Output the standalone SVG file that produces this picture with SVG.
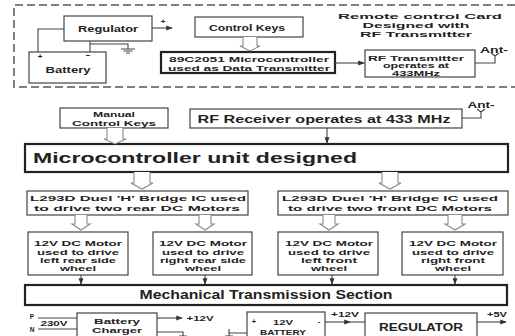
<svg xmlns="http://www.w3.org/2000/svg" width="515" height="336" viewBox="0 0 515 336">
<defs>
<style>
.bx{fill:#fff;stroke:#444;stroke-width:1.2}
.tk{fill:#fff;stroke:#222;stroke-width:2.2}
.ln{fill:none;stroke:#444;stroke-width:1.1}
.ha{fill:#fff;stroke:#8a8a8a;stroke-width:1.1}
.t{font-family:"Liberation Sans",Arial,sans-serif;font-weight:bold;fill:#222;text-anchor:middle}
.s6{font-size:6.5px}.s7{font-size:7.5px}.s8{font-size:8px}.s9{font-size:9.5px}.s10{font-size:10.5px}.s12{font-size:12px}.s14{font-size:15px}
.dash{fill:none;stroke:#555;stroke-width:1.5;stroke-dasharray:8 4}
</style>
<marker id="ar" viewBox="0 0 8 8" refX="7" refY="4" markerWidth="6" markerHeight="6" orient="auto"><path d="M0,1 L8,4 L0,7 z" fill="#333"/></marker>
</defs>
<rect width="515" height="336" fill="#fff"/>

<!-- remote card dashed border -->
<path class="dash" d="M515,5 H14 V87 H515"/>
<g id="card-title">
<text class="t s8" x="420" y="18.5" textLength="164" lengthAdjust="spacingAndGlyphs">Remote control Card</text>
<text class="t s8" x="416" y="27.5" textLength="107" lengthAdjust="spacingAndGlyphs">Designed with</text>
<text class="t s8" x="416" y="36.5" textLength="112" lengthAdjust="spacingAndGlyphs">RF Transmitter</text>
</g>

<g id="regulator"><rect class="bx" x="64" y="16" width="88" height="25"/><text class="t s9" x="108" y="32" textLength="60" lengthAdjust="spacingAndGlyphs">Regulator</text></g>
<g id="battery"><rect class="bx" x="29" y="52" width="77" height="31"/><text class="t s9" x="68" y="73" textLength="45" lengthAdjust="spacingAndGlyphs">Battery</text><text class="t s8" x="40" y="59">+</text><text class="t s8" x="88" y="58">−</text></g>
<g id="control-keys"><rect class="bx" x="195" y="17" width="108" height="20"/><text class="t s9" x="247" y="31" textLength="76" lengthAdjust="spacingAndGlyphs">Control Keys</text></g>
<g id="mcu-tx"><rect class="tk" x="161" y="52" width="174" height="21"/><text class="t s7" x="249" y="62" textLength="160" lengthAdjust="spacingAndGlyphs">89C2051 Microcontroller</text><text class="t s7" x="249" y="70.5" textLength="162" lengthAdjust="spacingAndGlyphs">used as Data Transmitter</text></g>
<g id="rf-tx"><rect class="bx" x="365" y="50" width="110" height="27"/><text class="t s6" x="416" y="60.5" textLength="96" lengthAdjust="spacingAndGlyphs">RF Transmitter</text><text class="t s6" x="416" y="68" textLength="66" lengthAdjust="spacingAndGlyphs">operates at</text><text class="t s6" x="416" y="75.5" textLength="48" lengthAdjust="spacingAndGlyphs">433MHz</text></g>
<g id="ant1"><text class="t s9" x="494" y="53" textLength="28" lengthAdjust="spacingAndGlyphs">Ant-</text></g>

<g id="manual-keys"><rect class="bx" x="60" y="108" width="108" height="20"/><text class="t s7" x="114" y="117" textLength="42" lengthAdjust="spacingAndGlyphs">Manual</text><text class="t s7" x="114" y="126" textLength="84" lengthAdjust="spacingAndGlyphs">Control Keys</text></g>
<g id="rf-rx"><rect class="bx" x="190" y="109" width="272" height="19"/><text class="t s10" x="324" y="123" textLength="253" lengthAdjust="spacingAndGlyphs">RF Receiver operates at 433 MHz</text></g>
<g id="ant2"><text class="t s9" x="481" y="108" textLength="27" lengthAdjust="spacingAndGlyphs">Ant-</text></g>
<g id="mcu"><rect class="tk" x="25" y="144" width="483" height="28"/><text class="t s14" x="195" y="163" textLength="324" lengthAdjust="spacingAndGlyphs">Microcontroller unit designed</text></g>

<g id="hb-rear"><rect class="bx" x="27" y="191" width="221" height="24"/><text class="t s8" x="138" y="201" textLength="216" lengthAdjust="spacingAndGlyphs">L293D Duel 'H' Bridge IC used</text><text class="t s8" x="137" y="211" textLength="206" lengthAdjust="spacingAndGlyphs">to drive two rear DC Motors</text></g>
<g id="hb-front"><rect class="bx" x="278" y="191" width="230" height="24"/><text class="t s8" x="390" y="201" textLength="216" lengthAdjust="spacingAndGlyphs">L293D Duel 'H' Bridge IC used</text><text class="t s8" x="390" y="211" textLength="204" lengthAdjust="spacingAndGlyphs">to drive two front DC Motors</text></g>

<g id="m1"><rect class="bx" x="28" y="232" width="100" height="43"/><text class="t s6" x="78" y="246" textLength="88" lengthAdjust="spacingAndGlyphs">12V DC Motor</text><text class="t s6" x="78" y="254.5" textLength="82" lengthAdjust="spacingAndGlyphs">used to drive</text><text class="t s6" x="78" y="263" textLength="76" lengthAdjust="spacingAndGlyphs">left rear side</text><text class="t s6" x="78" y="271" textLength="36" lengthAdjust="spacingAndGlyphs">wheel</text></g>
<g id="m2"><rect class="bx" x="153" y="232" width="99" height="43"/><text class="t s6" x="203" y="246" textLength="88" lengthAdjust="spacingAndGlyphs">12V DC Motor</text><text class="t s6" x="203" y="254.5" textLength="82" lengthAdjust="spacingAndGlyphs">used to drive</text><text class="t s6" x="203" y="263" textLength="86" lengthAdjust="spacingAndGlyphs">right rear side</text><text class="t s6" x="203" y="271" textLength="36" lengthAdjust="spacingAndGlyphs">wheel</text></g>
<g id="m3"><rect class="bx" x="278" y="232" width="100" height="43"/><text class="t s6" x="329" y="246" textLength="88" lengthAdjust="spacingAndGlyphs">12V DC Motor</text><text class="t s6" x="329" y="254.5" textLength="82" lengthAdjust="spacingAndGlyphs">used to drive</text><text class="t s6" x="329" y="263" textLength="56" lengthAdjust="spacingAndGlyphs">left front</text><text class="t s6" x="329" y="271" textLength="36" lengthAdjust="spacingAndGlyphs">wheel</text></g>
<g id="m4"><rect class="bx" x="402" y="232" width="101" height="43"/><text class="t s6" x="453" y="246" textLength="88" lengthAdjust="spacingAndGlyphs">12V DC Motor</text><text class="t s6" x="453" y="254.5" textLength="82" lengthAdjust="spacingAndGlyphs">used to drive</text><text class="t s6" x="453" y="263" textLength="64" lengthAdjust="spacingAndGlyphs">right front</text><text class="t s6" x="453" y="271" textLength="36" lengthAdjust="spacingAndGlyphs">wheel</text></g>

<g id="mech"><rect class="tk" x="25" y="285" width="482" height="20"/><text class="t s12" x="266" y="299" textLength="253" lengthAdjust="spacingAndGlyphs">Mechanical Transmission Section</text></g>

<g id="charger"><rect class="bx" x="77" y="313" width="80" height="30"/><text class="t s7" x="117" y="324" textLength="46" lengthAdjust="spacingAndGlyphs">Battery</text><text class="t s7" x="117" y="333" textLength="50" lengthAdjust="spacingAndGlyphs">Charger</text></g>
<g id="battery12"><rect class="bx" x="247" y="312" width="78" height="30"/><text class="t s7" x="283" y="325" textLength="20" lengthAdjust="spacingAndGlyphs">12V</text><text class="t s7" x="283" y="335" textLength="46" lengthAdjust="spacingAndGlyphs">BATTERY</text><text class="t s7" x="254" y="324">+</text><text class="t s7" x="319" y="324">-</text></g>
<g id="regulator2"><rect class="bx" x="365" y="313" width="112" height="30"/><text class="t s10" x="421" y="331" textLength="84" lengthAdjust="spacingAndGlyphs">REGULATOR</text></g>

<g id="labels">
<text class="t s8" x="163" y="24">+</text>
<text class="t s6" x="32" y="319">P</text>
<text class="t s6" x="54" y="325.5" textLength="27" lengthAdjust="spacingAndGlyphs">230V</text>
<text class="t s6" x="32" y="332">N</text>
<text class="t s8" x="200" y="321" textLength="27" lengthAdjust="spacingAndGlyphs">+12V</text>
<text class="t s8" x="345" y="317" textLength="28" lengthAdjust="spacingAndGlyphs">+12V</text>
<text class="t s8" x="497" y="317" textLength="20" lengthAdjust="spacingAndGlyphs">+5V</text>
</g>

<g id="connectors">
<!-- top card -->
<path class="ln" d="M64,29 H38 V52"/>
<path class="ln" d="M90,41 V52"/>
<path class="ln" d="M90,44 H128 V49"/>
<path class="ln" d="M121,49 H135 M123.5,51 H132.5 M126,53 H130"/>
<path class="ln" d="M152,28 H172" marker-end="url(#ar)"/>
<polyline class="ha" points="243,37 243,46 240,46 250,51 260,46 257,46 257,37"/>
<path class="ln" d="M335,63 H364" marker-end="url(#ar)"/>
<path class="ln" d="M475,63 H495 V55 M491,53 L495,56 L499,53"/>
<!-- lower -->
<path class="ln" d="M462,118 H481 V111 M477,109 L481,112 L485,109"/>
<polyline class="ha" points="107,128 107,139 104,139 115,144 126,139 123,139 123,128"/>
<path class="ln" d="M327,128 V143" marker-end="url(#ar)"/>
<polyline class="ha" points="134,172 134,183 131,183 142,189 153,183 150,183 150,172"/>
<polyline class="ha" points="382,172 382,183 379,183 390,189 401,183 398,183 398,172"/>
<polyline class="ha" points="75,215 75,224 72,224 81,230 90,224 87,224 87,215"/>
<polyline class="ha" points="199,215 199,224 196,224 205,230 214,224 211,224 211,215"/>
<polyline class="ha" points="323,215 323,224 320,224 329,230 338,224 335,224 335,215"/>
<polyline class="ha" points="448,215 448,224 445,224 455,230 465,224 462,224 462,215"/>
<path class="ln" d="M81,275 V284" marker-end="url(#ar)"/>
<path class="ln" d="M205,275 V284" marker-end="url(#ar)"/>
<path class="ln" d="M332,275 V284" marker-end="url(#ar)"/>
<path class="ln" d="M455,275 V284" marker-end="url(#ar)"/>
<!-- power row -->
<path class="ln" d="M38,318 H77 M38,329 H77"/>
<path class="ln" d="M157,318 H182" marker-end="url(#ar)"/>
<path class="ln" d="M157,332 H183 V336 M179,336 H187"/>
<path class="ln" d="M229,333 H247 M229,329 V336 M225,336 H233"/>
<path class="ln" d="M325,322 H350" marker-end="url(#ar)"/>
<path class="ln" d="M350,322 H365"/>
<path class="ln" d="M477,322 H506" marker-end="url(#ar)"/>
</g>
</svg>
